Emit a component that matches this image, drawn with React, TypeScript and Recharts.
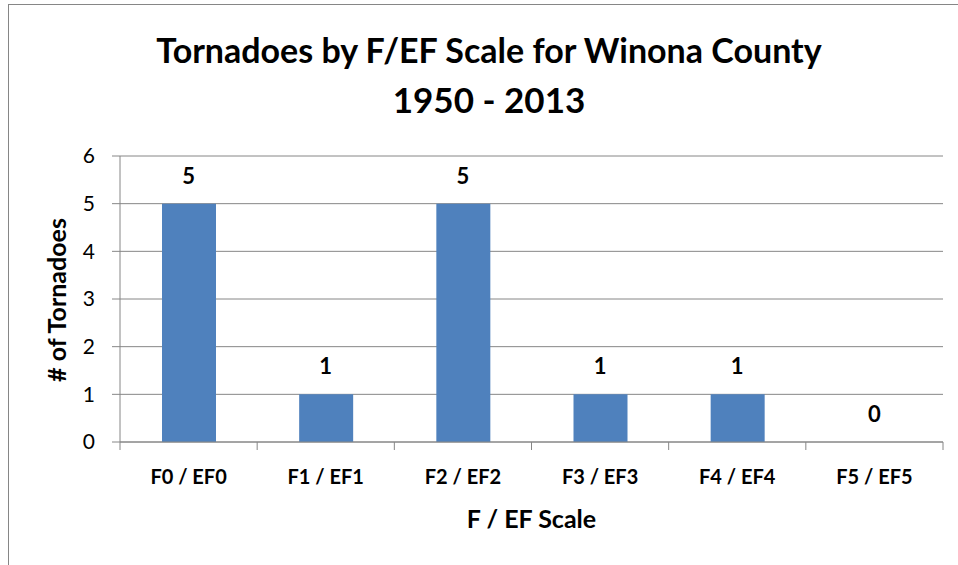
import { ComposedChart, Bar, Line, XAxis, YAxis, CartesianGrid, LabelList } from "recharts";

const categories = ["F0 / EF0", "F1 / EF1", "F2 / EF2", "F3 / EF3", "F4 / EF4", "F5 / EF5"];
const tornadoCounts = [5, 1, 5, 1, 1, 0];
const yTicks = [0, 1, 2, 3, 4, 5, 6];

const data = categories.map((scale, i) => ({ scale, count: tornadoCounts[i] }));

const FONT = "Lato, 'Open Sans', sans-serif";
const GRAY = "#868686";
const W = 958;
const H = 565;
const PLOT_LEFT = 120;
const PLOT_RIGHT = 943;
const BAND = (PLOT_RIGHT - PLOT_LEFT) / categories.length;
const TICK_SIZE = 8;
const TICK_MARGIN = 20;

// category ticks sit on the band edges, like the Excel original
const XTick = (props: any) => {
  const { x, y, payload, index } = props;
  const axisY = y - TICK_SIZE - TICK_MARGIN;
  return (
    <g>
      <line x1={x - BAND / 2} x2={x - BAND / 2} y1={axisY} y2={axisY + TICK_SIZE} stroke={GRAY} />
      {index === categories.length - 1 && (
        <line x1={x + BAND / 2} x2={x + BAND / 2} y1={axisY} y2={axisY + TICK_SIZE} stroke={GRAY} />
      )}
      <text x={x} y={y} dy="0.71em" textAnchor="middle" fontFamily={FONT} fontWeight={700} fontSize={20} fill="#000">
        {payload.value}
      </text>
    </g>
  );
};

export default function App() {
  return (
    <div style={{ position: "absolute", left: 0, top: 0, width: W, height: H, overflow: "hidden", background: "#fff" }}>
      <div style={{ position: "absolute", left: 8, top: 4, width: 980, height: 600, border: `1px solid ${GRAY}` }} />
      <div style={{ position: "absolute", left: 0, top: 0 }}>
        <ComposedChart width={W} height={H} data={data} margin={{ top: 156, right: W - PLOT_RIGHT, bottom: 83, left: 60 }}>
          <CartesianGrid vertical={false} stroke={GRAY} />
          <XAxis
            dataKey="scale"
            height={40}
            stroke={GRAY}
            tickLine={false}
            tickSize={TICK_SIZE}
            tickMargin={TICK_MARGIN}
            tick={<XTick />}
            interval={0}
          />
          <YAxis
            width={60}
            domain={[0, 6]}
            ticks={yTicks}
            stroke={GRAY}
            tickSize={TICK_SIZE}
            tickMargin={17}
            tick={{ fill: "#000", fontSize: 21, fontFamily: FONT }}
          />
          <Bar dataKey="count" fill="#4F81BD" barSize={54} isAnimationActive={false} />
          {/* invisible line carries the value labels so the zero bar gets one too */}
          <Line dataKey="count" stroke="none" dot={false} activeDot={false} legendType="none" isAnimationActive={false}>
            <LabelList dataKey="count" position="top" offset={20} fill="#000" fontSize={22} fontWeight={700} fontFamily={FONT} />
          </Line>
        </ComposedChart>
      </div>
      <svg width={W} height={H} style={{ position: "absolute", left: 0, top: 0, pointerEvents: "none" }}>
        <text x={489} y={63} textAnchor="middle" fontFamily={FONT} fontWeight={700} fontSize={34} fill="#000">
          Tornadoes by F/EF Scale for Winona County
        </text>
        <text x={489} y={113} textAnchor="middle" fontFamily={FONT} fontWeight={700} fontSize={35} fill="#000">
          1950 - 2013
        </text>
        <text x={531.5} y={528} textAnchor="middle" fontFamily={FONT} fontWeight={700} fontSize={25} fill="#000">
          F / EF Scale
        </text>
        <text
          transform="translate(57,300) rotate(-90)"
          dy="0.36em"
          textAnchor="middle"
          fontFamily={FONT}
          fontWeight={700}
          fontSize={25}
          fill="#000"
        >
          # of Tornadoes
        </text>
      </svg>
    </div>
  );
}
